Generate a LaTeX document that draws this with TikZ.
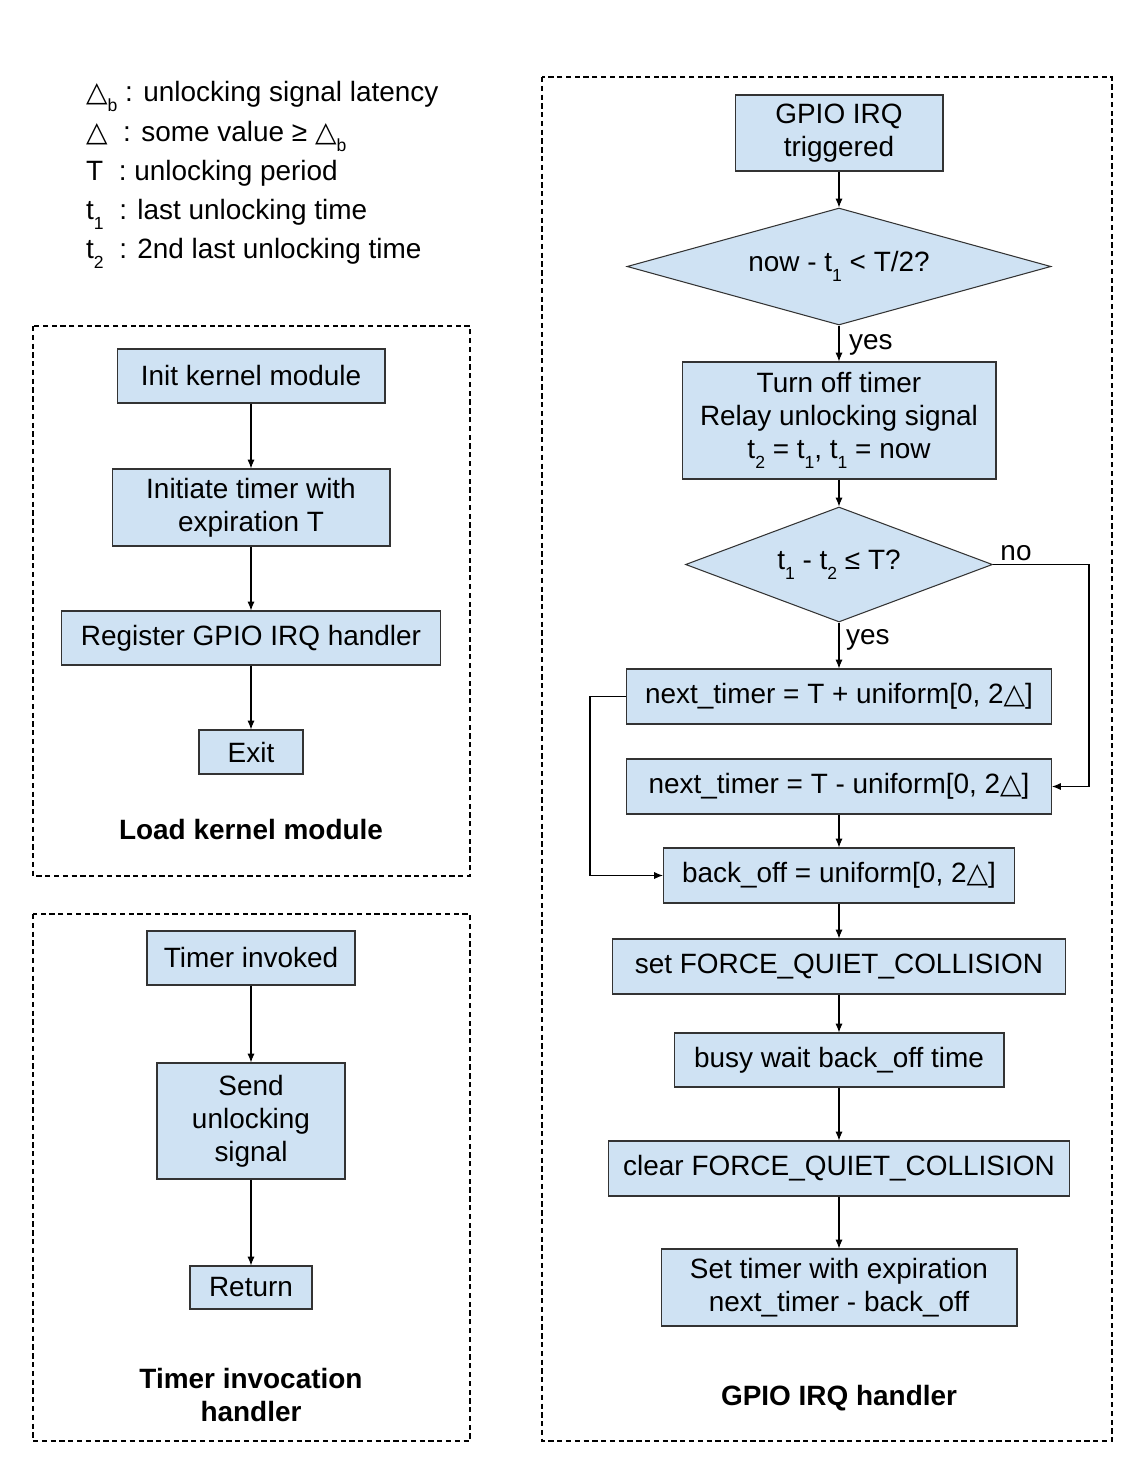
\documentclass[tikz,border=0pt]{standalone}
\usepackage{fontspec}
\setmainfont{Liberation Sans}
\newfontfamily\trifont{DejaVu Sans}
\usetikzlibrary{shapes.geometric,arrows.meta}
\definecolor{boxblue}{HTML}{CFE2F3}
\newcommand{\tri}{{\trifont △}}
\newcommand{\lowsub}[1]{\raisebox{-0.7ex}{\fontsize{10}{10}\selectfont #1}}
\begin{document}
\begin{tikzpicture}[x=0.02cm,y=-0.02cm,>={Latex[length=5pt,width=4pt]},
  every node/.style={font=\fontsize{15.9}{18.8}\selectfont},
  box/.style={draw=black!80,fill=boxblue,line width=0.6pt,inner sep=0pt,align=center},
  choice/.style={box,diamond,aspect=3},
  frame/.style={draw,line width=0.6pt,dash pattern=on 3pt off 2pt},
  flow/.style={->,line width=0.6pt},
  title/.style={font=\fontsize{15.9}{18.8}\selectfont\bfseries,align=center}]
  \useasboundingbox (0,0) rectangle (1138,1467);
  \node[anchor=base west] (l1) at (80,101) {\tri\lowsub{b} : unlocking signal latency};
  \node[anchor=base west] (l2) at (80,141) {\tri\ \ : some value ≥ \tri\lowsub{b}};
  \node[anchor=base west] (l3) at (80,180) {T\ \ : unlocking period};
  \node[anchor=base west] (l4) at (80,219) {t\lowsub{1}\ \ : last unlocking time};
  \node[anchor=base west] (l5) at (80,258) {t\lowsub{2}\ \ : 2nd last unlocking time};

  \draw[frame] (33,326) rectangle (470,876);
  \node[box,minimum width=5.36cm,minimum height=1.08cm] (init) at (251,376) {Init kernel module};
  \node[box,minimum width=5.56cm,minimum height=1.54cm] (itimer) at (251,507.5) {Initiate timer with\\expiration T};
  \node[box,minimum width=7.6cm,minimum height=1.08cm] (reg) at (251,638) {Register GPIO IRQ handler};
  \node[box,minimum width=2.08cm,minimum height=0.88cm] (exit) at (251,752) {Exit};
  \node[title] (load) at (251,830) {Load kernel module};
  \draw[flow] (init) -- (itimer);
  \draw[flow] (itimer) -- (reg);
  \draw[flow] (reg) -- (exit);

  \draw[frame] (33,914) rectangle (470,1441);
  \node[box,minimum width=4.16cm,minimum height=1.08cm] (tinv) at (251,958) {Timer invoked};
  \node[box,minimum width=3.76cm,minimum height=2.32cm] (send) at (251,1121) {Send\\unlocking\\signal};
  \node[box,minimum width=2.44cm,minimum height=0.86cm] (ret) at (251,1287.5) {Return};
  \node[title] (tih) at (251,1395) {Timer invocation\\handler};
  \draw[flow] (tinv) -- (send);
  \draw[flow] (send) -- (ret);

  \draw[frame] (542,77) rectangle (1112,1441);
  \node[box,minimum width=4.16cm,minimum height=1.52cm] (irq) at (839,133) {GPIO IRQ\\triggered};
  \node[choice,minimum width=8.48cm,minimum height=2.34cm] (half) at (839,266.5) {now - t\lowsub{1} < T/2?};
  \node[box,minimum width=6.28cm,minimum height=2.34cm] (relay) at (839,420.5) {Turn off timer\\Relay unlocking signal\\t\lowsub{2} = t\lowsub{1}, t\lowsub{1} = now};
  \node[choice,minimum width=6.14cm,minimum height=2.3cm] (gap) at (839,564.5) {t\lowsub{1} - t\lowsub{2} ≤ T?};
  \node[box,minimum width=8.5cm,minimum height=1.1cm] (nplus) at (839,696.5) {next\_timer = T + uniform[0, 2\tri]};
  \node[box,minimum width=8.5cm,minimum height=1.1cm] (nminus) at (839,786.5) {next\_timer = T - uniform[0, 2\tri]};
  \node[box,minimum width=7.02cm,minimum height=1.1cm] (boff) at (839,875.5) {back\_off = uniform[0, 2\tri]};
  \node[box,minimum width=9.08cm,minimum height=1.1cm] (setf) at (839,966.5) {set FORCE\_QUIET\_COLLISION};
  \node[box,minimum width=6.6cm,minimum height=1.08cm] (busy) at (839,1060) {busy wait back\_off time};
  \node[box,minimum width=9.24cm,minimum height=1.1cm] (clrf) at (839,1168.5) {clear FORCE\_QUIET\_COLLISION};
  \node[box,minimum width=7.12cm,minimum height=1.54cm] (rearm) at (839,1287.5) {Set timer with expiration\\next\_timer - back\_off};
  \node[title] (gih) at (839,1398) {GPIO IRQ handler};
  \node[anchor=west] (yes1) at (843,345) {yes};
  \node[anchor=west] (yes2) at (840,640) {yes};
  \node (no) at (1016,553) {no};
  \coordinate (nobend) at (1089,564.5);
  \coordinate (loopbend) at (590,696.5);
  \draw[flow] (irq) -- (half);
  \draw[flow] (half) -- (relay);
  \draw[flow] (relay) -- (gap);
  \draw[flow] (gap) -- (nplus);
  \draw[flow] (gap.east) -- (nobend) |- (nminus.east);
  \draw[flow] (nplus.west) -- (loopbend) |- (boff.west);
  \draw[flow] (nminus) -- (boff);
  \draw[flow] (boff) -- (setf);
  \draw[flow] (setf) -- (busy);
  \draw[flow] (busy) -- (clrf);
  \draw[flow] (clrf) -- (rearm);
\end{tikzpicture}
\end{document}
